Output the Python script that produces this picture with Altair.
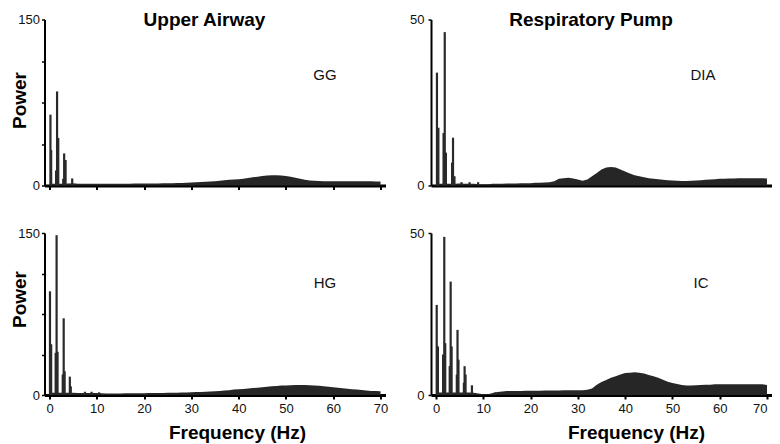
import altair as alt
import pandas as pd

# Frequency grid (Hz) for the broadband part of each spectrum
FREQ = list(range(71))
X_TICKS = list(range(0, 75, 5))

GG_BG = [1.5, 1.5, 1.5, 1.5, 1.8, 2.0, 1.5, 1.5, 1.5, 1.5,
         1.5, 1.5, 1.5, 1.5, 1.5, 1.6, 1.6, 1.6, 1.7, 1.7,
         1.8, 1.8, 1.9, 1.9, 2.0, 2.0, 2.1, 2.2, 2.3, 2.5,
         2.7, 2.9, 3.1, 3.3, 3.6, 3.9, 4.3, 4.7, 5.1, 5.4,
         5.7, 6.2, 6.8, 7.4, 8.0, 8.6, 9.0, 9.2, 9.2, 9.0,
         8.6, 7.9, 7.0, 6.0, 5.1, 4.5, 4.2, 4.0, 3.9, 3.9,
         3.9, 3.9, 3.9, 3.9, 3.9, 3.8, 3.8, 3.8, 3.8, 3.7, 3.7]
DIA_BG = [0.5, 0.5, 0.5, 0.5, 0.5, 0.6, 0.5, 0.5, 0.5, 0.4,
          0.4, 0.4, 0.5, 0.5, 0.5, 0.6, 0.6, 0.6, 0.7, 0.7,
          0.7, 0.8, 0.8, 0.9, 1.0, 1.3, 2.0, 2.2, 2.3, 2.1,
          1.8, 1.4, 1.8, 2.8, 3.8, 4.8, 5.4, 5.6, 5.4, 4.8,
          4.2, 3.6, 3.1, 2.8, 2.5, 2.2, 2.0, 1.9, 1.7, 1.6,
          1.5, 1.4, 1.35, 1.35, 1.4, 1.5, 1.6, 1.7, 1.8, 1.9,
          2.0, 2.0, 2.1, 2.1, 2.2, 2.2, 2.2, 2.2, 2.2, 2.2, 2.1]
HG_BG = [2.0, 2.0, 2.0, 2.0, 2.0, 2.0, 1.8, 1.8, 1.8, 1.8,
         1.8, 1.6, 1.5, 1.5, 1.5, 1.5, 1.6, 1.6, 1.6, 1.7,
         1.7, 1.8, 1.8, 1.9, 1.9, 2.0, 2.0, 2.1, 2.2, 2.3,
         2.5, 2.7, 2.8, 3.0, 3.3, 3.5, 3.8, 4.1, 4.5, 5.0,
         5.3, 5.6, 6.0, 6.4, 6.8, 7.2, 7.6, 8.0, 8.4, 8.7,
         8.9, 9.1, 9.2, 9.3, 9.2, 9.0, 8.8, 8.5, 8.0, 7.6,
         7.2, 6.7, 6.2, 5.8, 5.4, 5.0, 4.6, 4.2, 3.8, 3.6, 3.4]
IC_BG = [0.8, 0.8, 0.8, 0.8, 0.8, 0.8, 0.8, 0.8, 0.7, 0.5,
         0.2, 0.2, 0.6, 0.9, 1.1, 1.2, 1.2, 1.2, 1.2, 1.3,
         1.3, 1.3, 1.3, 1.4, 1.4, 1.4, 1.4, 1.5, 1.5, 1.5,
         1.5, 1.5, 1.6, 2.0, 3.2, 4.0, 4.6, 5.3, 5.8, 6.3,
         6.8, 6.9, 7.0, 6.9, 6.6, 6.2, 5.8, 5.3, 4.7, 4.1,
         3.7, 3.4, 3.1, 2.9, 2.9, 3.0, 3.1, 3.2, 3.2, 3.3,
         3.3, 3.3, 3.3, 3.3, 3.3, 3.3, 3.3, 3.3, 3.3, 3.3, 3.1]

# Respiratory-frequency harmonics (sharp spectral lines)
GG_PEAK_F = [0.2, 0.35, 1.4, 1.6, 1.85, 2.9, 3.1, 3.4, 4.8]
GG_PEAK_P = [64, 32, 13.6, 85, 43, 6, 29, 23, 6.4]
DIA_PEAK_F = [0.2, 0.5, 1.6, 1.85, 2.1, 3.4, 3.6, 3.9, 5.4, 7.1, 8.9]
DIA_PEAK_P = [34, 17.4, 15.8, 46.2, 9.9, 6.9, 14.4, 2.8, 1.0, 1.0, 1.0]
HG_PEAK_F = [0.1, 0.35, 1.3, 1.5, 1.7, 2.8, 3.0, 3.2, 4.3, 4.5, 7.5, 8.9, 10.5]
HG_PEAK_P = [96, 47, 39, 148, 40, 19, 71, 22, 17, 8, 3, 3, 2.5]
IC_PEAK_F = [0.15, 0.4, 1.5, 1.75, 1.95, 2.9, 3.1, 3.3, 4.4, 4.55, 4.75,
             5.9, 6.05, 6.25, 7.6, 12.5]
IC_PEAK_P = [27.8, 15, 12.5, 48.8, 16, 8.9, 35, 15, 6.3, 20.1, 10.9,
             3.8, 8.9, 6.3, 3.0, 0.8]

FONT = "Liberation Sans"
W = 341
H_TOP = 166
H_BOT = 162
FILL = "#262626"


def panel(bg, pk_f, pk_p, ymax, yvals, label, label_x, label_y, h,
          bottom, xticks_on, ytitle, ytitle_y, xtitle_x, col_title, col_x,
          ylabel_pad, last_right=False):
    bg_df = pd.DataFrame({"f": FREQ, "p": bg})
    pk_df = pd.DataFrame({"f": pk_f, "p": pk_p})
    xscale = alt.Scale(domain=[0, 70], nice=False, zero=True)
    yscale = alt.Scale(domain=[0, ymax], nice=False)

    xargs = dict(values=X_TICKS, grid=False, domainColor="black",
                 domainWidth=3, tickColor="black", tickWidth=2,
                 tickSize=4, ticks=xticks_on, labelFont=FONT,
                 labelFontSize=13, labelColor="#111", labelPadding=3,
                 labelFlush=False)
    if bottom:
        xargs.update(labelExpr="datum.value % 10 === 0 ? datum.label : ''",
                     title="Frequency (Hz)", titleFont=FONT,
                     titleFontSize=19, titleFontWeight="bold",
                     titleColor="black", titleX=xtitle_x, titleY=43,
                     titleBaseline="alphabetic", titleAlign="center",
                     titleAnchor="start")
        if last_right:
            xargs.update(labelAlign={"condition": {"test": "datum.value === 70",
                                                   "value": "right"},
                                     "value": "center"})
    else:
        xargs.update(labels=False)
    xaxis = alt.Axis(**xargs)

    ymax_label = str(ymax)
    yargs = dict(values=yvals, grid=False, domainColor="black",
                 domainWidth=2, tickColor="black", tickWidth=1.5,
                 tickSize=3, labelFont=FONT, labelFontSize=13,
                 labelColor="#111", labelPadding=ylabel_pad,
                 labelExpr="datum.value === 0 || datum.value === %s ? datum.label : ''" % ymax_label,
                 labelFlush=False)
    if ytitle:
        yargs.update(title="Power", titleFont=FONT, titleFontSize=19,
                     titleFontWeight="bold", titleColor="black",
                     titleX=-19, titleY=ytitle_y, titleAngle=270,
                     titleBaseline="alphabetic", titleAlign="center")
    yaxis = alt.Axis(**yargs)

    area = alt.Chart(bg_df).mark_area(color=FILL, interpolate="linear").encode(
        x=alt.X("f:Q", scale=xscale, axis=xaxis, title="Frequency (Hz)" if bottom else None),
        y=alt.Y("p:Q", scale=yscale, axis=yaxis, title="Power" if ytitle else None),
    )
    spikes = alt.Chart(pk_df).mark_bar(color="#2a2a2a", width=2.2).encode(
        x=alt.X("f:Q", scale=xscale),
        y=alt.Y("p:Q", scale=yscale, stack=None),
    )
    lab = alt.Chart(pd.DataFrame({"t": [label]})).mark_text(
        font=FONT, fontSize=15, color="#111", align="center",
        baseline="middle").encode(
        text="t:N", x=alt.value(label_x), y=alt.value(label_y))
    layers = [area, spikes, lab]
    if col_title:
        ct = alt.Chart(pd.DataFrame({"t": [col_title]})).mark_text(
            font=FONT, fontSize=19, fontWeight="bold", color="black",
            align="center", baseline="alphabetic").encode(
            text="t:N", x=alt.value(col_x), y=alt.value(6))
        layers.append(ct)
    return alt.layer(*layers).properties(width=W, height=h)


tl = panel(GG_BG, GG_PEAK_F, GG_PEAK_P, 150, [0, 37.5, 75, 112.5, 150],
           "GG", 280.5, 55.5, H_TOP, False, True, True, 80.5, 0,
           "Upper Airway", 160, 2)
tr = panel(DIA_BG, DIA_PEAK_F, DIA_PEAK_P, 50, [0, 50],
           "DIA", 272, 55.5, H_TOP, False, False, False, 0, 0,
           "Respiratory Pump", 160, 4)
bl = panel(HG_BG, HG_PEAK_F, HG_PEAK_P, 150, [0, 37.5, 75, 112.5, 150],
           "HG", 280.5, 50, H_BOT, True, True, True, 66, 192.5,
           None, 0, 2)
br = panel(IC_BG, IC_PEAK_F, IC_PEAK_P, 50, [0, 50],
           "IC", 270, 50, H_BOT, True, True, False, 0, 205,
           None, 0, 4, last_right=True)

chart = alt.concat(tl, tr, bl, br, columns=2,
                   spacing={"row": 47.5, "column": 45.5},
                   bounds="flush").properties(
    autosize=alt.AutoSizeParams(type="none"),
    padding={"left": 36.5, "top": 11.5, "right": 727.5, "bottom": 424.5},
    background="white",
).configure_view(stroke="transparent")

chart.save("out.html", embed_options={"renderer": "svg", "actions": False})
